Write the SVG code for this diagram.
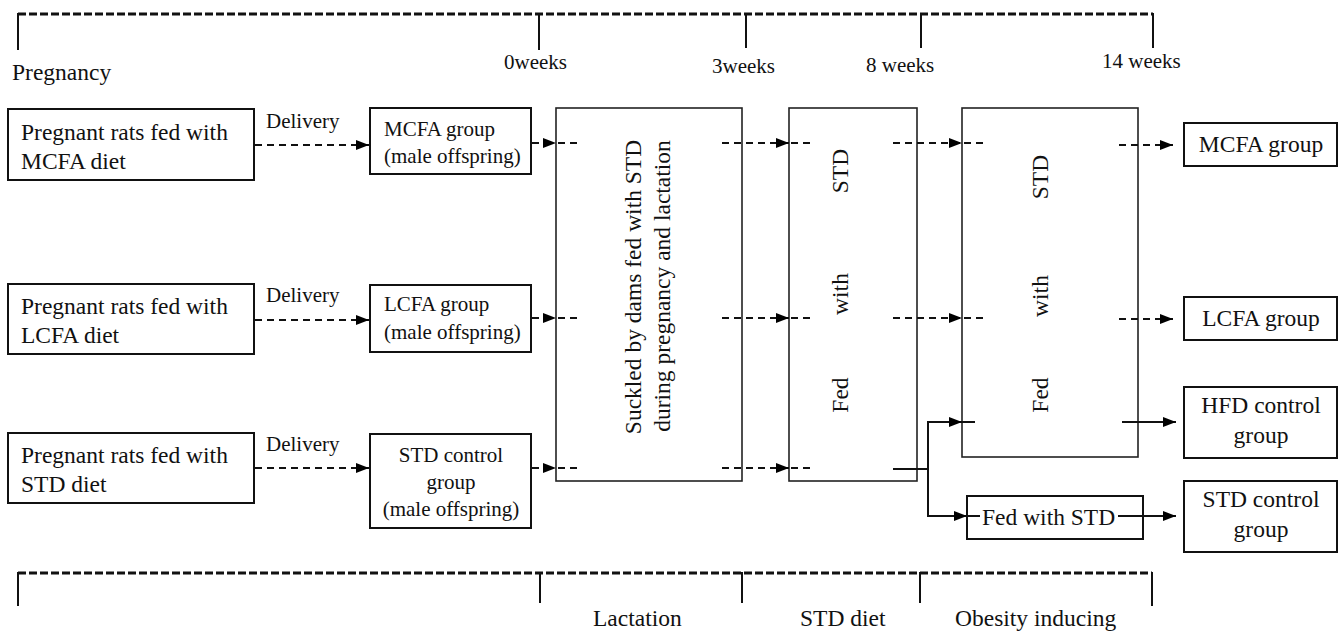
<svg xmlns="http://www.w3.org/2000/svg" width="1341" height="631" viewBox="0 0 1341 631">
<defs>
<marker id="ah" markerUnits="userSpaceOnUse" markerWidth="14" markerHeight="10" refX="13" refY="5" orient="auto">
<path d="M0,0 L13,5 L0,10 z" fill="#000"/>
</marker>
<style>
text{font-family:"Liberation Serif","Times New Roman",serif;fill:#111;}
.box{fill:#fff;stroke:#111;stroke-width:2;}
.bigbox{fill:#fff;stroke:#222;stroke-width:1.6;}
.t23{font-size:23.5px;}
.t21{font-size:21px;}
.dash{stroke:#111;stroke-width:2;stroke-dasharray:7 5;fill:none;}
.solid{stroke:#111;stroke-width:2;fill:none;}
.tl{stroke:#111;stroke-width:3;stroke-dasharray:8 3;fill:none;}
.tick{stroke:#111;stroke-width:2;fill:none;}
.mid{text-anchor:middle;}
</style>
</defs>
<rect width="1341" height="631" fill="#fff"/>

<g id="timeline-top">
<line class="tl" x1="18" y1="14" x2="1153" y2="14"/>
<line class="tick" x1="18" y1="13" x2="18" y2="50"/>
<line class="tick" x1="539" y1="13" x2="539" y2="50"/>
<line class="tick" x1="746" y1="13" x2="746" y2="48"/>
<line class="tick" x1="921" y1="13" x2="921" y2="48"/>
<line class="tick" x1="1153" y1="13" x2="1153" y2="48"/>
<text class="t23" x="12" y="80">Pregnancy</text>
<text class="t21" x="504" y="69">0weeks</text>
<text class="t21" x="712" y="73">3weeks</text>
<text class="t21" x="866" y="72">8 weeks</text>
<text class="t21" x="1102" y="68">14 weeks</text>
</g>

<g id="timeline-bottom">
<line class="tl" x1="18" y1="573" x2="1152" y2="573"/>
<line class="tick" x1="18" y1="572" x2="18" y2="606"/>
<line class="tick" x1="540" y1="572" x2="540" y2="603"/>
<line class="tick" x1="742" y1="572" x2="742" y2="603"/>
<line class="tick" x1="920" y1="572" x2="920" y2="603"/>
<line class="tick" x1="1152" y1="572" x2="1152" y2="606"/>
<text class="t23" x="593" y="626">Lactation</text>
<text class="t23" x="800" y="626">STD diet</text>
<text class="t23" x="955" y="626">Obesity inducing</text>
</g>

<g id="node-preg-mcfa">
<rect class="box" x="8" y="109" width="246" height="71"/>
<text class="t23" x="21" y="140">Pregnant rats fed with</text>
<text class="t23" x="21" y="169">MCFA diet</text>
</g>
<g id="node-preg-lcfa">
<rect class="box" x="8" y="284" width="246" height="70"/>
<text class="t23" x="21" y="314">Pregnant rats fed with</text>
<text class="t23" x="21" y="343">LCFA diet</text>
</g>
<g id="node-preg-std">
<rect class="box" x="8" y="433" width="246" height="70"/>
<text class="t23" x="21" y="463">Pregnant rats fed with</text>
<text class="t23" x="21" y="492">STD diet</text>
</g>

<g id="node-mcfa-off">
<rect class="box" x="370" y="108" width="161" height="66"/>
<text class="t21" x="384" y="136">MCFA group</text>
<text class="t21" x="384" y="163">(male offspring)</text>
</g>
<g id="node-lcfa-off">
<rect class="box" x="370" y="285" width="161" height="67"/>
<text class="t21" x="384" y="311">LCFA group</text>
<text class="t21" x="384" y="339">(male offspring)</text>
</g>
<g id="node-std-off">
<rect class="box" x="370" y="434" width="161" height="94"/>
<text class="t21 mid" x="451" y="462">STD control</text>
<text class="t21 mid" x="451" y="489">group</text>
<text class="t21 mid" x="451" y="516">(male offspring)</text>
</g>

<g id="node-suckled">
<rect class="bigbox" x="556" y="108" width="186" height="373"/>
<text class="t23 mid" transform="translate(641,287) rotate(-90)">Suckled by dams fed with STD</text>
<text class="t23 mid" transform="translate(670,286) rotate(-90)">during pregnancy and lactation</text>
</g>
<g id="node-fed-std">
<rect class="bigbox" x="789" y="108" width="128" height="373"/>
<text class="t23 mid" transform="translate(848,171) rotate(-90)">STD</text>
<text class="t23 mid" transform="translate(848,294) rotate(-90)">with</text>
<text class="t23 mid" transform="translate(848,395) rotate(-90)">Fed</text>
</g>
<g id="node-fed-std2">
<rect class="bigbox" x="962" y="108" width="176" height="349"/>
<text class="t23 mid" transform="translate(1048,177) rotate(-90)">STD</text>
<text class="t23 mid" transform="translate(1048,296) rotate(-90)">with</text>
<text class="t23 mid" transform="translate(1048,395) rotate(-90)">Fed</text>
</g>
<g id="node-fed-std-small">
<rect class="box" x="967" y="496" width="176" height="43"/>
<text class="t23" x="982" y="525">Fed with STD</text>
</g>

<g id="node-out-mcfa">
<rect class="box" x="1184" y="123" width="153" height="43"/>
<text class="t23 mid" x="1261" y="152">MCFA group</text>
</g>
<g id="node-out-lcfa">
<rect class="box" x="1184" y="297" width="153" height="43"/>
<text class="t23 mid" x="1261" y="326">LCFA group</text>
</g>
<g id="node-out-hfd">
<rect class="box" x="1184" y="387" width="153" height="71"/>
<text class="t23 mid" x="1261" y="413">HFD control</text>
<text class="t23 mid" x="1261" y="443">group</text>
</g>
<g id="node-out-std">
<rect class="box" x="1184" y="481" width="153" height="71"/>
<text class="t23 mid" x="1261" y="507">STD control</text>
<text class="t23 mid" x="1261" y="537">group</text>
</g>

<g id="connectors">
<line class="dash" x1="255" y1="145" x2="369" y2="145" marker-end="url(#ah)"/>
<line class="dash" x1="255" y1="320" x2="369" y2="320" marker-end="url(#ah)"/>
<line class="dash" x1="255" y1="468" x2="369" y2="468" marker-end="url(#ah)"/>
<text class="t21" x="266" y="128">Delivery</text>
<text class="t21" x="266" y="302">Delivery</text>
<text class="t21" x="266" y="451">Delivery</text>
<line class="dash" x1="532" y1="143" x2="556" y2="143" marker-end="url(#ah)"/>
<line class="dash" x1="558" y1="143" x2="577" y2="143"/>
<line class="dash" x1="532" y1="318" x2="556" y2="318" marker-end="url(#ah)"/>
<line class="dash" x1="558" y1="318" x2="577" y2="318"/>
<line class="dash" x1="532" y1="468" x2="556" y2="468" marker-end="url(#ah)"/>
<line class="dash" x1="558" y1="468" x2="577" y2="468"/>
<line class="dash" x1="722" y1="143" x2="789" y2="143" marker-end="url(#ah)"/>
<line class="dash" x1="791" y1="143" x2="811" y2="143"/>
<line class="dash" x1="722" y1="318" x2="789" y2="318" marker-end="url(#ah)"/>
<line class="dash" x1="791" y1="318" x2="811" y2="318"/>
<line class="dash" x1="722" y1="468" x2="789" y2="468" marker-end="url(#ah)"/>
<line class="dash" x1="791" y1="468" x2="811" y2="468"/>
<line class="dash" x1="893" y1="143" x2="962" y2="143" marker-end="url(#ah)"/>
<line class="dash" x1="964" y1="143" x2="984" y2="143"/>
<line class="dash" x1="893" y1="318" x2="962" y2="318" marker-end="url(#ah)"/>
<line class="dash" x1="964" y1="318" x2="984" y2="318"/>
<line class="dash" x1="1119" y1="145" x2="1173" y2="145" marker-end="url(#ah)"/>
<line class="dash" x1="1119" y1="319" x2="1173" y2="319" marker-end="url(#ah)"/>
<path class="solid" d="M893,469 H928 M928,421 V517"/>
<line class="solid" x1="927" y1="422" x2="962" y2="422" marker-end="url(#ah)"/>
<line class="solid" x1="962" y1="422" x2="975" y2="422"/>
<line class="solid" x1="927" y1="516" x2="967" y2="516" marker-end="url(#ah)"/>
<line class="solid" x1="967" y1="516" x2="980" y2="516"/>
<line class="solid" x1="1122" y1="422" x2="1176" y2="422" marker-end="url(#ah)"/>
<line class="solid" x1="1118" y1="516" x2="1176" y2="516" marker-end="url(#ah)"/>
</g>
</svg>
